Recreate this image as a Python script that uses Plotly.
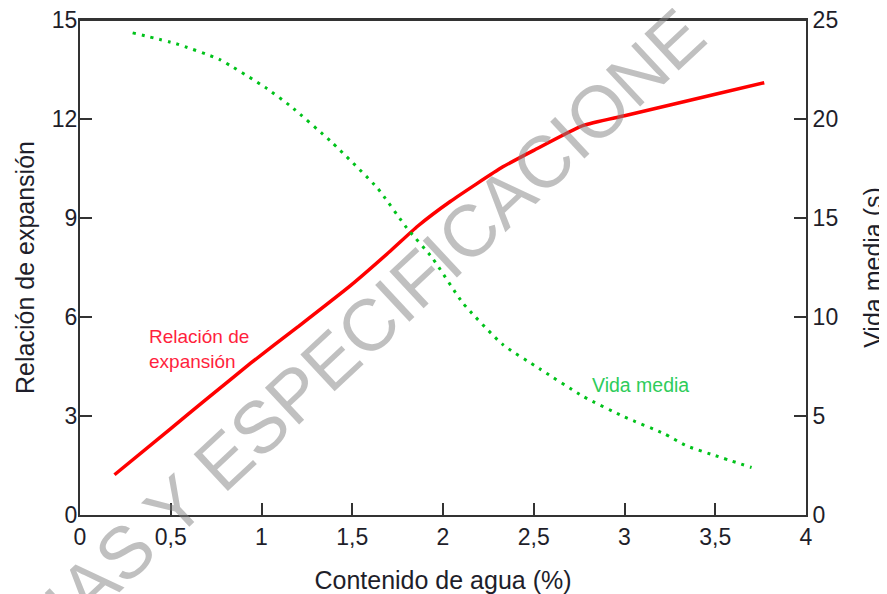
import plotly.graph_objects as go

# ---- data ----
x_tickvals = [0, 0.5, 1, 1.5, 2, 2.5, 3, 3.5, 4]
x_ticktext = ["0", "0,5", "1", "1,5", "2", "2,5", "3", "3,5", "4"]
y_left_ticks = [0, 3, 6, 9, 12, 15]
y_right_ticks = [0, 5, 10, 15, 20, 25]

water_exp = [0.19, 0.5, 0.69, 0.94, 1.2, 1.49, 1.71, 1.86, 2.04, 2.33, 2.5, 2.77, 3.0, 3.5, 3.77]
exp_ratio = [1.22, 2.62, 3.48, 4.6, 5.7, 6.95, 8.0, 8.75, 9.5, 10.55, 11.05, 11.8, 12.1, 12.75, 13.1]

water_half = [0.29, 0.53, 0.77, 1.02, 1.16, 1.39, 1.64, 1.8, 1.94, 2.11, 2.33, 2.53, 2.77, 3.0, 3.22, 3.34, 3.5, 3.7]
half_life = [24.35, 23.8, 23.0, 21.6, 20.65, 18.8, 16.5, 14.5, 13.0, 10.7, 8.6, 7.4, 6.0, 4.95, 4.1, 3.5, 3.0, 2.4]

label_exp = "Relación de<br>expansión"
label_half = "Vida media"
watermark = "IAS Y ESPECIFICACIONE"

FONT = "Liberation Sans, Arial, sans-serif"
AX = "#333333"
TXT = "#1e1e2a"

fig = go.Figure()
fig.add_trace(go.Scatter(x=water_exp, y=exp_ratio, mode="lines",
                         line=dict(color="#ff0000", width=3.5, shape="spline", smoothing=0.5),
                         showlegend=False, yaxis="y"))
fig.add_trace(go.Scatter(x=water_half, y=half_life, mode="lines",
                         line=dict(color="#00c21a", width=3, dash="3px,6px", shape="spline", smoothing=0.5),
                         showlegend=False, yaxis="y2"))

common = dict(ticks="inside", ticklen=12, tickwidth=2, tickcolor=AX,
              showline=True, linewidth=2, linecolor=AX,
              showgrid=False, zeroline=False, automargin=False,
              ticklabeloverflow="allow",
              tickfont=dict(size=23, color=TXT))

fig.update_layout(
    width=879, height=586,
    margin=dict(l=72, r=81, t=12, b=79),
    paper_bgcolor="white", plot_bgcolor="white",
    font=dict(family=FONT, color=TXT, size=23),
    xaxis=dict(range=[0, 4], tickvals=x_tickvals, ticktext=x_ticktext, mirror=True,
               title=dict(text="Contenido de agua (%)", font=dict(size=25, color=TXT), standoff=27),
               **common),
    yaxis=dict(range=[0, 15], tickvals=y_left_ticks, mirror=True,
               ticklabelstandoff=-4,
               title=dict(text="Relación de expansión", font=dict(size=25, color=TXT), standoff=10),
               **common),
    yaxis2=dict(range=[0, 25], tickvals=y_right_ticks, overlaying="y", side="right",
                title=dict(text="Vida media (s)", font=dict(size=25, color=TXT), standoff=29),
                **common),
)

# top frame line
fig.add_shape(type="line", xref="paper", yref="paper", x0=0, x1=1, y0=1, y1=1,
              line=dict(color=AX, width=2), layer="above")

fig.add_annotation(x=0.37, y=5.03, xref="x", yref="y", text=label_exp,
                   showarrow=False, xanchor="left", yanchor="middle", align="left",
                   font=dict(size=19, color="#ff1f3d", family=FONT))
fig.add_annotation(x=2.81, y=3.94, xref="x", yref="y", text=label_half,
                   showarrow=False, xanchor="left", yanchor="middle",
                   font=dict(size=19.5, color="#2ecc5a", family=FONT))
fig.add_annotation(x=0.407, y=0.396, xref="paper", yref="paper", text=watermark,
                   showarrow=False, textangle=-43, xanchor="center", yanchor="middle",
                   font=dict(size=73, color="rgba(130,130,130,0.5)", family=FONT))

fig.write_html("out.html")
